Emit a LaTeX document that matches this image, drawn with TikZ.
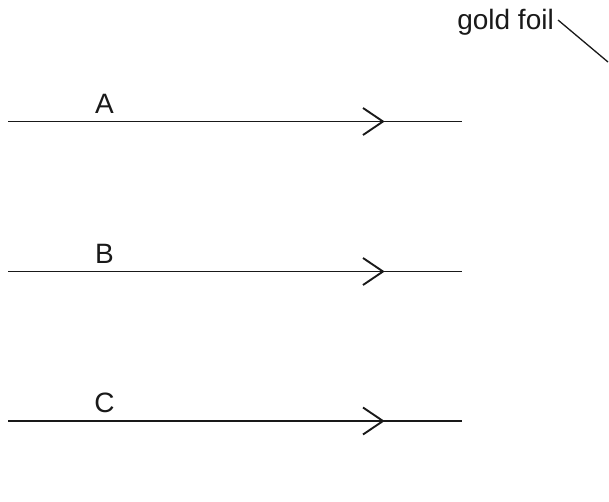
\documentclass[tikz,border=0pt]{standalone}
\usepackage{fontspec}
\setmainfont{Liberation Sans}
\begin{document}
\begin{tikzpicture}[x=1pt,y=-1pt,
  ray/.style={line width=1.9pt,color=black!90},
  chev/.style={line width=1.9pt,color=black!90,line join=miter},
  lbl/.style={font=\fontsize{28}{32}\selectfont,text=black!90,inner sep=0pt,anchor=base}]
\useasboundingbox (0,0) rectangle (609,501);
\foreach \n/\y/\t in {A/121.5/A,B/271.5/B,C/421/C}{
  \coordinate (\n s) at (8,\y);
  \coordinate (\n e) at (462,\y);
  \coordinate (\n t) at (383,\y);
  \draw[ray] (\n s) -- (\n e);
  \draw[chev] ([shift={(-20,-13.5)}]\n t) -- (\n t) -- ([shift={(-20,13.5)}]\n t);
  \node[lbl] (\n l) at (104.5,\y-8.5) {\t};
}
\node[lbl,anchor=base east] (gf) at (554,29) {gold foil};
\coordinate (gfe) at (608,62);
\draw[line width=1.3pt,color=black!90] (558,20) -- (gfe);
\end{tikzpicture}
\end{document}
